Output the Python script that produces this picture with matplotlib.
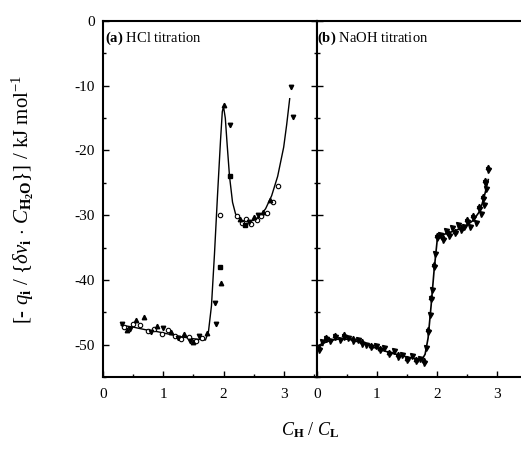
import numpy as np
import matplotlib.pyplot as plt
from matplotlib.ticker import MultipleLocator

plt.rcParams['font.family'] = 'Liberation Serif'
plt.rcParams['mathtext.fontset'] = 'custom'
plt.rcParams['mathtext.rm'] = 'Liberation Serif'
plt.rcParams['mathtext.it'] = 'Liberation Serif:italic'
plt.rcParams['mathtext.bf'] = 'Liberation Serif:bold'

# (a) HCl titration: fitted curve
hcl_line_x = [0.3, 0.5, 0.7, 0.9, 1.1, 1.3, 1.5, 1.7, 1.75, 1.8, 1.85, 1.9, 1.95, 1.98,
              2.0, 2.03, 2.06, 2.1, 2.15, 2.2, 2.3, 2.4, 2.5, 2.6, 2.7, 2.8, 2.9, 3.0, 3.05, 3.1]
hcl_line_y = [-47.0, -47.3, -47.7, -48.0, -48.4, -48.8, -49.1, -49.3, -48.0, -44.0, -36.0, -27.0,
              -18.5, -14.0, -13.2, -15.0, -19.0, -24.0, -28.0, -29.8, -30.8, -31.0, -30.8, -30.2,
              -29.0, -27.0, -24.0, -19.5, -16.0, -12.0]
# (a) measured points
hcl_circ_x = [0.35, 0.5, 0.62, 0.75, 0.85, 0.98, 1.08, 1.2, 1.3, 1.42, 1.55, 1.65, 1.95,
              2.22, 2.3, 2.38, 2.46, 2.55, 2.63, 2.72, 2.82, 2.9]
hcl_circ_y = [-47.3, -46.8, -47.0, -47.9, -47.6, -48.3, -47.8, -48.7, -49.2, -48.9, -49.4, -49.0,
              -30.0, -30.2, -31.2, -30.6, -31.4, -30.8, -30.1, -29.6, -28.0, -25.5]
hcl_up_x = [0.4, 0.55, 0.68, 0.9, 1.12, 1.35, 1.5, 1.72, 1.96, 2.01, 2.27, 2.5, 2.66, 2.78]
hcl_up_y = [-47.8, -46.2, -45.8, -47.2, -48.0, -48.4, -49.6, -48.2, -40.5, -13.0, -30.6, -30.3,
            -29.5, -27.6]
hcl_dn_x = [0.32, 0.45, 0.8, 1.0, 1.25, 1.45, 1.6, 1.86, 1.88, 2.1, 2.42, 2.58, 3.12, 3.16]
hcl_dn_y = [-46.8, -47.6, -48.1, -47.5, -49.0, -49.5, -48.6, -43.6, -46.8, -16.0, -31.0, -30.0,
            -10.2, -14.8]
hcl_sq_x = [1.94, 2.11, 2.35]
hcl_sq_y = [-38.0, -24.0, -31.5]

# (b) NaOH titration: fitted curve
naoh_line_x = [0.02, 0.1, 0.25, 0.4, 0.55, 0.7, 0.85, 1.0, 1.2, 1.4, 1.6, 1.75, 1.8, 1.85,
               1.9, 1.95, 2.0, 2.03, 2.1, 2.2, 2.3, 2.4, 2.5, 2.6, 2.7, 2.75, 2.8, 2.85]
naoh_line_y = [-50.2, -49.8, -49.3, -49.1, -49.2, -49.6, -50.1, -50.6, -51.2, -51.7, -52.1,
               -52.3, -51.5, -49.0, -44.0, -38.5, -34.0, -33.2, -33.0, -32.7, -32.4, -32.0,
               -31.5, -30.8, -29.5, -28.2, -26.5, -24.5]
# (b) measured points
naoh_pt_x = [0.03, 0.08, 0.15, 0.22, 0.3, 0.38, 0.45, 0.52, 0.6, 0.68, 0.75, 0.82, 0.9, 0.98,
             1.05, 1.12, 1.2, 1.28, 1.35, 1.42, 1.5, 1.58, 1.65, 1.72, 1.78, 1.82, 1.85, 1.88,
             1.9, 1.92, 1.95, 1.97, 2.0, 2.05, 2.1, 2.15, 2.2, 2.25, 2.3, 2.35, 2.4, 2.45,
             2.5, 2.55, 2.6, 2.65, 2.7, 2.73, 2.76, 2.78, 2.8, 2.82, 2.84]
naoh_pt_y = [-50.8, -49.6, -49.2, -49.5, -48.9, -49.3, -48.8, -49.0, -49.4, -49.3, -49.9,
             -50.0, -50.4, -50.2, -50.9, -50.6, -51.5, -51.0, -51.9, -51.6, -52.4, -51.8,
             -52.6, -52.2, -52.8, -50.5, -48.0, -45.5, -43.0, -41.5, -38.0, -36.0, -33.5,
             -33.0, -33.8, -32.5, -33.2, -32.0, -32.8, -31.5, -32.3, -31.9, -31.0, -31.8,
             -30.4, -31.2, -29.0, -29.8, -27.5, -28.4, -25.0, -26.0, -23.0]

fig = plt.figure(figsize=(5.21, 4.58), dpi=100)
w = 0.41
ax1 = fig.add_axes([0.198, 0.177, w, 0.777])
ax2 = fig.add_axes([0.198 + w, 0.177, w, 0.777])

ms = 3.2
ax1.plot(hcl_line_x, hcl_line_y, color='black', lw=1.0)
ax1.plot(hcl_circ_x, hcl_circ_y, 'o', mfc='white', mec='black', ms=ms, mew=0.8)
ax1.plot(hcl_up_x, hcl_up_y, '^', color='black', ms=ms)
ax1.plot(hcl_dn_x, hcl_dn_y, 'v', color='black', ms=ms)
ax1.plot(hcl_sq_x, hcl_sq_y, 's', color='black', ms=ms - 0.5)

ax2.plot(naoh_line_x, naoh_line_y, color='black', lw=1.2)
ax2.plot(naoh_pt_x, naoh_pt_y, 'v', color='black', ms=ms + 0.4)
ax2.plot(naoh_pt_x[::2], [v + 0.4 for v in naoh_pt_y[::2]], '^', color='black', ms=ms)

for ax in (ax1, ax2):
    ax.set_xlim(0, 3.55)
    ax.set_ylim(-55, 0)
    ax.xaxis.set_major_locator(MultipleLocator(1))
    ax.xaxis.set_minor_locator(MultipleLocator(0.5))
    ax.yaxis.set_major_locator(MultipleLocator(10))
    ax.yaxis.set_minor_locator(MultipleLocator(5))
    ax.tick_params(which='both', direction='in', top=False, labelsize=11)
    ax.tick_params(which='major', length=4, width=1.0)
    ax.tick_params(which='minor', length=2.5, width=1.0)
    for s in ax.spines.values():
        s.set_linewidth(1.5)
    ax.set_xticks([0, 1, 2, 3])
    ax.set_xticklabels(['0', '1', '2', '3'])
    ax.tick_params(axis='x', pad=8)

ax1.tick_params(axis='y', which='both', right=True)
ax1.set_yticks([0, -10, -20, -30, -40, -50])
ax1.set_yticklabels(['0', '-10', '-20', '-30', '-40', '-50'])
ax1.tick_params(axis='y', pad=6)
ax2.tick_params(axis='y', which='both', labelleft=False)

ax1.text(0.01, 0.975, r'$\mathbf{(a)}$ HCl titration', transform=ax1.transAxes,
         ha='left', va='top', fontsize=10.5)
ax2.text(0.0, 0.975, r'$\mathbf{(b)}$ NaOH titration', transform=ax2.transAxes,
         ha='left', va='top', fontsize=10.5)

ax1.set_ylabel(r'[- $q_{\mathbf{i}}$ / {$\delta\nu_{\mathbf{i}}$ $\cdot$ $C_{\mathbf{H_2O}}$}] / kJ mol$^{-1}$',
               fontsize=15, labelpad=28)
fig.text(0.595, 0.04, r'$C_{\mathbf{H}}$ / $C_{\mathbf{L}}$', ha='center', va='bottom',
         fontsize=13)

fig.savefig('out.png', dpi=100)
